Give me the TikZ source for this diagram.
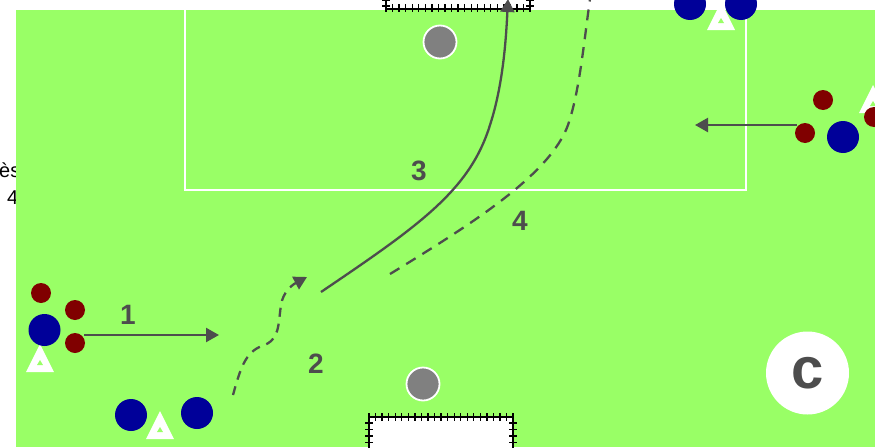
\documentclass[tikz,border=0pt]{standalone}
\usepackage{fontspec}
\setmainfont{Liberation Sans}
\usetikzlibrary{arrows.meta}
\definecolor{fieldgreen}{HTML}{99FF66}
\definecolor{pblue}{HTML}{000099}
\definecolor{pred}{HTML}{800000}
\definecolor{arrowgray}{HTML}{4D4D4D}
\definecolor{ballgray}{HTML}{808080}
\begin{document}
\begin{tikzpicture}[x=1pt,y=-1pt,
  blueplayer/.style={circle,fill=pblue,minimum size=32pt,inner sep=0pt},
  redplayer/.style={circle,fill=pred,minimum size=20pt,inner sep=0pt},
  ball/.style={circle,fill=ballgray,draw=white,line width=1.8pt,minimum size=33pt,inner sep=0pt},
  numlabel/.style={text=arrowgray,font=\bfseries\fontsize{28}{30}\selectfont,inner sep=0pt},
  runarrow/.style={draw=arrowgray,line width=2.3pt,-{Triangle[length=13pt,width=14pt]}},
  dashrun/.style={runarrow,dash pattern=on 9pt off 7pt},
  netline/.style={black,line width=1.3pt},
  cone/.pic={\fill[white] (-14,14) -- (14,14) -- (0,-14) -- cycle;
             \fill[fieldgreen] (-3,7) -- (3,7) -- (0,2) -- cycle;}]
\useasboundingbox (0,0) rectangle (875,447);
\fill[white] (0,0) rectangle (875,447);
% partly hidden side text
\node[anchor=base west,inner sep=0pt,font=\fontsize{20}{22}\selectfont] (t1) at (-1,177) {ès};
\node[anchor=base west,inner sep=0pt,font=\fontsize{20}{22}\selectfont] (t2) at (7,204) {4};
% field
\fill[fieldgreen] (16,10) rectangle (875,447);
% penalty box
\draw[white,line width=2.6pt] (185,10) -- (185,190) -- (746,190) -- (746,10);
% top goal
\fill[white] (386,-2) rectangle (530,9);
\draw[netline] (386,-2) -- (386,9) -- (530,9) -- (530,-2);
\foreach \i in {0,...,22} {\draw[netline] (386+\i*6.55,4) -- (386+\i*6.55,12);}
\foreach \j in {0,1} {\draw[netline] (382,\j*6) -- (390,\j*6); \draw[netline] (526,\j*6) -- (534,\j*6);}
% bottom goal
\fill[white] (369,417) rectangle (513,450);
\draw[netline] (369,450) -- (369,417) -- (513,417) -- (513,450);
\foreach \i in {0,...,22} {\draw[netline] (369+\i*6.55,413) -- (369+\i*6.55,421);}
\foreach \j in {0,...,4} {\draw[netline] (365,423+\j*6.5) -- (373,423+\j*6.5); \draw[netline] (509,423+\j*6.5) -- (517,423+\j*6.5);}
% balls
\node[ball] (ball1) at (440,42) {};
\node[ball] (ball2) at (423,384) {};
% C marker
\node[circle,fill=white,minimum size=83pt,inner sep=0pt] (cc) at (807.5,373) {};
\node[text=arrowgray,font=\bfseries\fontsize{58}{60}\selectfont,inner sep=0pt] (cl) at (cc) {c};
% cones
\pic at (40,358) {cone};
\pic at (160,425) {cone};
\pic at (721,16) {cone};
\pic at (873,99) {cone};
% players
\node[redplayer] (r1) at (41,293) {};
\node[redplayer] (r2) at (75,310) {};
\node[redplayer] (r3) at (75,343) {};
\node[blueplayer] (b1) at (44.5,330) {};
\node[blueplayer] (b2) at (131,415) {};
\node[blueplayer] (b3) at (197,413) {};
\node[blueplayer] (b4) at (690,4) {};
\node[blueplayer] (b5) at (741,4) {};
\node[redplayer] (r4) at (823,100) {};
\node[redplayer] (r5) at (805,133) {};
\node[redplayer] (r6) at (874,117) {};
\node[blueplayer] (b6) at (843,137) {};
% arrow endpoints
\coordinate (a1s) at (84,335);
\coordinate (a1e) at (219,335);
\coordinate (a2s) at (233,395);
\coordinate (a2m) at (262,346);
\coordinate (a2n) at (281,305);
\coordinate (a2e) at (307,277);
\coordinate (a3s) at (321,292);
\coordinate (a3m) at (490,125);
\coordinate (a3e) at (508,-1);
\coordinate (a4s) at (390,274);
\coordinate (a4m) at (568,125);
\coordinate (a4e) at (591,-8);
\coordinate (a5s) at (797,125);
\coordinate (a5e) at (695,125);
% runs and passes
\draw[runarrow] (a1s) -- (a1e);
\draw[dashrun] (a2s) .. controls (240,370) and (245,352) .. (a2m)
  .. controls (280,340) and (278,325) .. (a2n)
  .. controls (283,292) and (292,285) .. (a2e);
\draw[runarrow] (a3s) .. controls (420,225) and (470,190) .. (a3m)
  .. controls (503,85) and (506,40) .. (a3e);
\draw[draw=arrowgray,line width=2.3pt,dash pattern=on 11pt off 8pt] (a4s) .. controls (470,225) and (550,175) .. (a4m)
  .. controls (580,90) and (584,40) .. (a4e);
\draw[runarrow] (a5s) -- (a5e);
% labels
\node[numlabel] (n1) at (128,315) {1};
\node[numlabel] (n2) at (316,364) {2};
\node[numlabel] (n3) at (419,171) {3};
\node[numlabel] (n4) at (520,221) {4};
\end{tikzpicture}
\end{document}
